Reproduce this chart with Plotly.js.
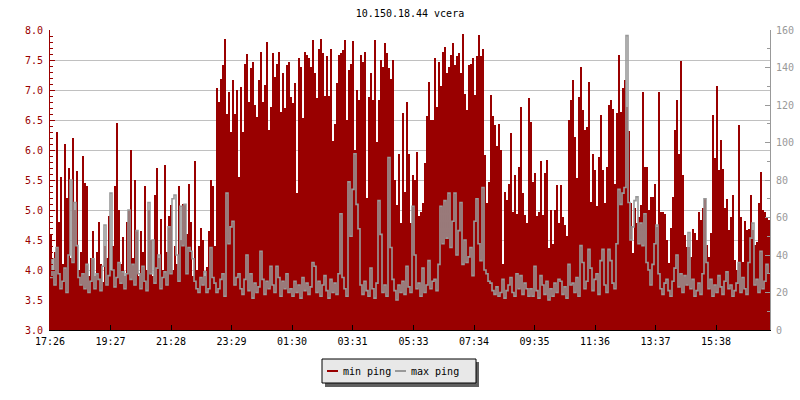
<!DOCTYPE html>
<html>
<head>
<meta charset="utf-8">
<script src="https://cdn.plot.ly/plotly-3.0.1.min.js"></script>
<style>
html,body{margin:0;padding:0;background:#fff;}
#chart{width:800px;height:400px;}
#chart .bars path{shape-rendering:crispEdges;}
</style>
</head>
<body>
<div id="chart"></div>
<script>
// ---- data ----
const chartTitle = "10.150.18.44 vcera";
const startTime = "17:26";
const stepMinutes = 4;
const xTickLabels = ["17:26","19:27","21:28","23:29","01:30","03:31","05:33","07:34","09:35","11:36","13:37","15:38"];
const seriesNames = ["min ping", "max ping"];

// min ping (ms, left axis)
const minPing = [
4.6,4.0,4.3,6.3,4.8,5.55,4.1,6.1,5.2,5.7,
4.2,6.2,5.0,5.65,4.0,4.3,5.9,5.45,5.4,3.9,
4.2,4.65,3.9,4.3,4.8,4.1,3.8,4.4,4.2,4.9,
4.0,4.4,5.4,6.45,5.0,4.1,4.55,3.9,4.8,5.0,
6.0,4.2,5.5,4.65,3.9,4.65,4.3,5.4,4.0,5.0,
4.5,3.9,5.25,5.7,4.2,4.85,4.0,5.75,4.3,4.9,
5.08,4.0,4.4,4.1,5.4,4.5,5.1,5.1,4.6,5.43,
4.8,3.9,5.82,4.0,4.4,4.7,4.5,3.9,4.05,4.65,
5.5,5.4,4.4,7.03,6.8,7.18,7.42,7.85,6.6,6.97,
6.3,7.17,6.6,7.0,5.55,7.05,6.3,7.44,7.6,6.8,
7.36,7.47,6.75,6.55,7.17,7.64,6.8,7.08,7.8,6.33,
6.72,7.62,7.22,7.44,7.64,6.64,7.28,6.7,7.42,7.47,
6.89,6.78,7.11,5.28,7.53,7.39,6.53,7.64,7.58,7.53,
7.39,7.83,7.28,6.86,7.69,7.85,7.61,6.9,7.56,6.9,
7.69,6.15,6.44,7.11,7.58,7.61,7.67,7.83,6.5,7.33,
7.44,7.81,6.0,7.0,6.83,7.58,7.47,7.64,5.2,6.89,
7.28,6.83,7.83,6.14,6.83,7.5,7.39,7.78,7.61,7.36,
7.19,7.5,5.5,5.08,5.94,4.78,6.61,5.3,6.8,5.94,
4.78,5.58,5.5,5.97,4.9,4.97,5.11,5.78,6.56,7.14,
6.5,6.5,7.53,6.72,7.47,7.06,7.64,7.72,7.28,7.39,
7.58,7.78,7.42,7.56,7.61,7.28,7.93,6.94,6.67,7.42,
7.44,7.53,6.92,7.56,7.92,7.56,7.69,5.92,5.11,5.47,
6.92,6.56,6.42,6.06,6.44,6.0,4.1,5.3,5.17,5.44,
6.28,4.97,5.58,4.94,5.72,6.72,5.28,4.92,4.78,6.86,
6.47,5.47,5.61,4.9,4.97,5.81,4.92,5.61,5.83,4.36,
5.0,4.44,5.0,5.42,4.78,5.42,4.89,4.75,4.56,6.5,
6.83,7.17,6.22,5.53,6.89,7.39,6.67,6.33,6.39,7.14,
5.14,5.94,5.67,5.06,5.89,6.58,5.67,5.11,5.72,6.75,
6.83,6.69,5.44,6.61,7.58,6.64,7.03,7.17,6.72,6.31,
5.11,4.28,5.03,4.78,4.89,5.08,6.97,5.72,5.72,5.0,
5.22,5.22,5.43,4.72,6.97,4.97,4.97,4.94,4.5,4.11,
4.7,5.22,6.33,6.83,5.94,7.49,5.58,4.58,4.39,4.39,
4.22,4.69,4.61,4.5,4.97,4.83,5.03,5.19,4.42,4.22,
4.61,6.58,5.86,7.06,5.67,6.17,5.69,5.03,5.19,4.67,
4.89,5.25,4.17,4.0,6.42,4.89,4.14,4.81,4.67,4.69,
5.25,4.67,4.42,4.47,5.11,5.64,5.0,4.97,4.89,4.83
];

// max ping (ms, right axis)
const maxPing = [
28,38,24,44,30,22,26,33,20,40,
80,36,68,45,28,24,30,22,35,20,
26,38,22,30,27,21,34,56,24,29,
73,32,23,28,36,25,31,22,30,64,
27,35,24,53,30,22,34,26,21,68,
30,48,25,33,40,22,28,31,24,55,
30,70,72,40,26,66,45,67,30,44,
42,38,26,22,20,28,24,31,20,22,
44,28,25,20,22,27,30,18,73,46,
55,58,24,28,30,22,19,27,40,21,
30,17,25,20,23,42,27,19,26,22,
34,24,20,34,28,18,26,22,30,20,
22,18,26,20,24,17,28,21,25,19,
23,36,34,20,26,18,24,29,21,17,
27,20,25,19,30,62,28,22,18,79,
50,75,94,67,54,24,19,26,21,18,
33,22,17,25,69,51,20,24,18,92,
44,27,21,16,24,20,26,19,34,23,
20,66,40,22,25,18,33,20,24,37,
22,26,27,21,35,66,46,69,49,73,
44,58,73,40,53,68,35,48,36,39,
44,29,58,70,46,37,76,32,30,26,
25,21,19,23,18,20,27,17,21,24,
28,20,18,30,22,29,19,25,22,18,
22,18,34,21,17,29,24,19,26,16,
22,18,25,20,27,26,19,23,17,35,
24,25,20,28,18,45,36,22,26,43,
33,21,27,30,19,37,43,24,20,43,
37,25,22,46,75,67,73,76,157,68,
48,55,69,71,46,57,45,62,36,32,
24,35,46,56,30,22,19,25,27,21,
18,26,33,40,23,30,20,29,24,52,
22,27,18,21,25,19,30,70,36,22,
27,18,24,20,29,23,19,26,31,22,
24,18,21,25,36,20,28,22,19,36,
49,57,24,27,20,42,22,26,35,30
];

// ---- derived positions through the axis scale ----
function toMin(t){ const p = t.split(":"); return (+p[0])*60 + (+p[1]); }
const startMin = toMin(startTime);
const tickVals = xTickLabels.map(t => (toMin(t) - startMin + 1440) % 1440);
const xBar = minPing.map((_, i) => i*stepMinutes + stepMinutes/2);
const xLine = maxPing.map((_, i) => i*stepMinutes);

const RED = "#990000", GRAY = "#999999";
const FONT = "DejaVu Sans Mono, monospace";

const traces = [
  {type:"bar", x:xBar, y:minPing, width:stepMinutes, name:seriesNames[0],
   marker:{color:RED, line:{width:0}}, yaxis:"y", showlegend:false, hoverinfo:"skip"},
  {type:"scatter", mode:"lines", x:xLine, y:maxPing, name:seriesNames[1],
   line:{color:GRAY, width:1.6, shape:"hv"}, yaxis:"y2", showlegend:false, hoverinfo:"skip"}
];

// pixel -> paper helpers for the hand-drawn legend box (layout only)
const L = 50, T = 30, W = 720, H = 300;
const px = v => (v - L)/W;
const py = v => (T + H - v)/H;

const layout = {
  width:800, height:400,
  margin:{l:50, r:30, t:30, b:70},
  paper_bgcolor:"#fff", plot_bgcolor:"#fff",
  font:{family:FONT, size:10, color:"#000"},
  title:{text:chartTitle, font:{family:FONT, size:10, color:"#000"},
         x:0.5, xref:"paper", xanchor:"center", y:1-13/400, yref:"container", yanchor:"middle"},
  bargap:0,
  showlegend:false,
  hovermode:false,
  xaxis:{range:[0,1440], tickmode:"array", tickvals:tickVals, ticktext:xTickLabels,
         ticks:"inside", ticklen:5, tickcolor:"#000", showline:true, linecolor:"#000", linewidth:1,
         ticklabelstandoff:2,
         showgrid:false, zeroline:false, tickfont:{family:FONT, size:10, color:"#000"}, fixedrange:true},
  yaxis:{range:[3,8], tick0:3, dtick:0.5, tickformat:".1f", ticks:"inside", ticklen:5,
         tickcolor:RED, showline:true, linecolor:RED, linewidth:1, ticklabelstandoff:4,
         showgrid:true, gridcolor:"#c0c0c0", gridwidth:1, zeroline:false,
         minor:{dtick:0.1, ticks:"inside", ticklen:3, tickcolor:RED, showgrid:false},
         tickfont:{family:FONT, size:10, color:RED}, fixedrange:true},
  yaxis2:{overlaying:"y", side:"right", range:[0,160], tick0:0, dtick:20, ticks:"inside", ticklen:5,
          tickcolor:GRAY, showline:true, linecolor:GRAY, linewidth:1, ticklabelstandoff:3,
          showgrid:false, zeroline:false,
          minor:{dtick:10, ticks:"inside", ticklen:3, tickcolor:GRAY, showgrid:false},
          tickfont:{family:FONT, size:10, color:GRAY}, fixedrange:true},
  shapes:[
    {type:"rect", xref:"paper", yref:"paper", x0:px(325), x1:px(479), y0:py(362), y1:py(387),
     fillcolor:"#606060", line:{width:0}},
    {type:"rect", xref:"paper", yref:"paper", x0:px(322), x1:px(476), y0:py(359), y1:py(383),
     fillcolor:"#e8e8e8", line:{color:"#000", width:1}},
    {type:"line", xref:"paper", yref:"paper", x0:px(327), x1:px(338), y0:py(371), y1:py(371),
     line:{color:RED, width:2}},
    {type:"line", xref:"paper", yref:"paper", x0:px(395), x1:px(406), y0:py(371), y1:py(371),
     line:{color:GRAY, width:2}}
  ],
  annotations:[
    {text:seriesNames[0], xref:"paper", yref:"paper", x:px(341), y:py(371), xanchor:"left", yanchor:"middle",
     showarrow:false, font:{family:FONT, size:10, color:"#000"}},
    {text:seriesNames[1], xref:"paper", yref:"paper", x:px(409), y:py(371), xanchor:"left", yanchor:"middle",
     showarrow:false, font:{family:FONT, size:10, color:"#000"}}
  ]
};

Plotly.newPlot("chart", traces, layout, {displayModeBar:false, staticPlot:true});
</script>
</body>
</html>
